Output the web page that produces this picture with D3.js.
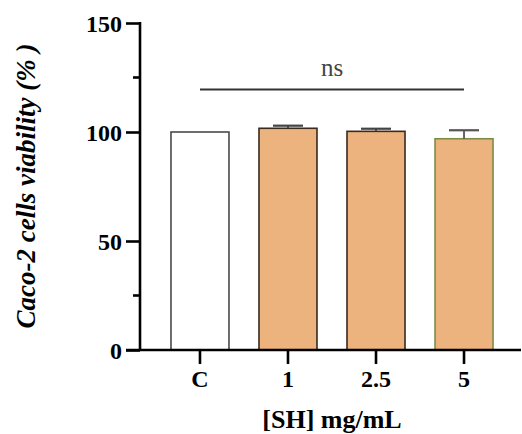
<!DOCTYPE html>
<html>
<head>
<meta charset="utf-8">
<script src="https://cdn.jsdelivr.net/npm/d3@7"></script>
<style>
  html, body { margin: 0; padding: 0; background: #fff; }
  svg { display: block; }
</style>
</head>
<body>
<svg id="chart" width="522" height="434"></svg>
<script>
// Caco-2 viability after SH exposure (mean + SD, % of control)
const categories = ["C", "1", "2.5", "5"];
const viability = [100, 101.7, 100.3, 96.9];
const sdUpper = [0, 1.2, 1.2, 3.9];
const yTicks = [0, 50, 100, 150];
const yMinorTicks = [25, 125];
const fills = ["#ffffff", "#edb37e", "#edb37e", "#edb37e"];
const strokes = ["#4a4a4a", "#3a2a1e", "#3a2a1e", "#7f8c45"];
const capColors = ["#4a4a4a", "#444444", "#444444", "#555555"];
const sigLabel = "ns";
const xTitle = "[SH] mg/mL";
const yTitle = "Caco-2 cells viability (% )";

const svg = d3.select("#chart");
const serif = "'Liberation Serif', 'Times New Roman', serif";

const y = d3.scaleLinear().domain([0, 150]).range([350, 23]);
const x = d3.scaleBand().domain(categories).range([140, 524])
  .paddingInner(0.341).paddingOuter(0.352);

// bars
svg.append("g").selectAll("rect").data(categories).join("rect")
  .attr("x", d => x(d))
  .attr("y", (d, i) => y(viability[i]))
  .attr("width", x.bandwidth())
  .attr("height", (d, i) => y(0) - y(viability[i]))
  .attr("fill", (d, i) => fills[i])
  .attr("stroke", (d, i) => strokes[i])
  .attr("stroke-width", 1.6);

// upper error bars
const eb = svg.append("g");
categories.forEach((c, i) => {
  if (sdUpper[i] <= 0) return;
  const cx = x(c) + x.bandwidth() / 2;
  const top = y(viability[i] + sdUpper[i]);
  eb.append("line").attr("x1", cx).attr("x2", cx)
    .attr("y1", y(viability[i])).attr("y2", top)
    .attr("stroke", capColors[i]).attr("stroke-width", 1.8);
  eb.append("line").attr("x1", cx - 15).attr("x2", cx + 15)
    .attr("y1", top).attr("y2", top)
    .attr("stroke", capColors[i]).attr("stroke-width", 2.2);
});

// y axis
const yAxis = svg.append("g").attr("transform", "translate(140,0)")
  .call(d3.axisLeft(y).tickValues(yTicks).tickSize(14).tickPadding(4));
yAxis.select(".domain").remove();
yAxis.append("line").attr("x1", 0).attr("x2", 0)
  .attr("y1", y(150) - 1).attr("y2", y(0) + 1)
  .attr("stroke", "#000").attr("stroke-width", 2.6);
yAxis.selectAll(".tick line").attr("stroke", "#000").attr("stroke-width", 2.6);
yAxis.selectAll(".tick text")
  .attr("fill", "#000").attr("font-family", serif)
  .attr("font-weight", "bold").attr("font-size", 24).attr("dy", "0.34em");
yAxis.selectAll(".minor").data(yMinorTicks).join("line")
  .attr("class", "minor")
  .attr("x1", -7).attr("x2", 0)
  .attr("y1", d => y(d)).attr("y2", d => y(d))
  .attr("stroke", "#000").attr("stroke-width", 2.6);

// x axis
const xAxis = svg.append("g").attr("transform", `translate(0,${y(0)})`)
  .call(d3.axisBottom(x).tickSize(14).tickPadding(6));
xAxis.select(".domain").remove();
xAxis.append("line").attr("x1", 126).attr("x2", 521)
  .attr("y1", 0).attr("y2", 0)
  .attr("stroke", "#000").attr("stroke-width", 2.6);
xAxis.selectAll(".tick line").attr("stroke", "#000").attr("stroke-width", 2.6);
xAxis.selectAll(".tick text")
  .attr("fill", "#000").attr("font-family", serif)
  .attr("font-weight", "bold").attr("font-size", 24);

// significance bracket
const sx1 = x(categories[0]) + x.bandwidth() / 2;
const sx2 = x(categories[3]) + x.bandwidth() / 2;
svg.append("line").attr("x1", sx1).attr("x2", sx2)
  .attr("y1", 89.5).attr("y2", 89.5)
  .attr("stroke", "#333").attr("stroke-width", 2);
svg.append("text").attr("x", (sx1 + sx2) / 2).attr("y", 76)
  .attr("text-anchor", "middle").attr("font-family", serif)
  .attr("font-size", 25).attr("fill", "#444").text(sigLabel);

// axis titles
svg.append("text").attr("x", (sx1 + sx2) / 2).attr("y", 428)
  .attr("text-anchor", "middle").attr("font-family", serif)
  .attr("font-weight", "bold").attr("font-size", 26).attr("fill", "#000")
  .text(xTitle);
svg.append("text")
  .attr("transform", "translate(35,186) rotate(-90)")
  .attr("text-anchor", "middle").attr("font-family", serif)
  .attr("font-weight", "bold").attr("font-style", "italic")
  .attr("font-size", 27).attr("fill", "#000")
  .text(yTitle);
</script>
</body>
</html>
